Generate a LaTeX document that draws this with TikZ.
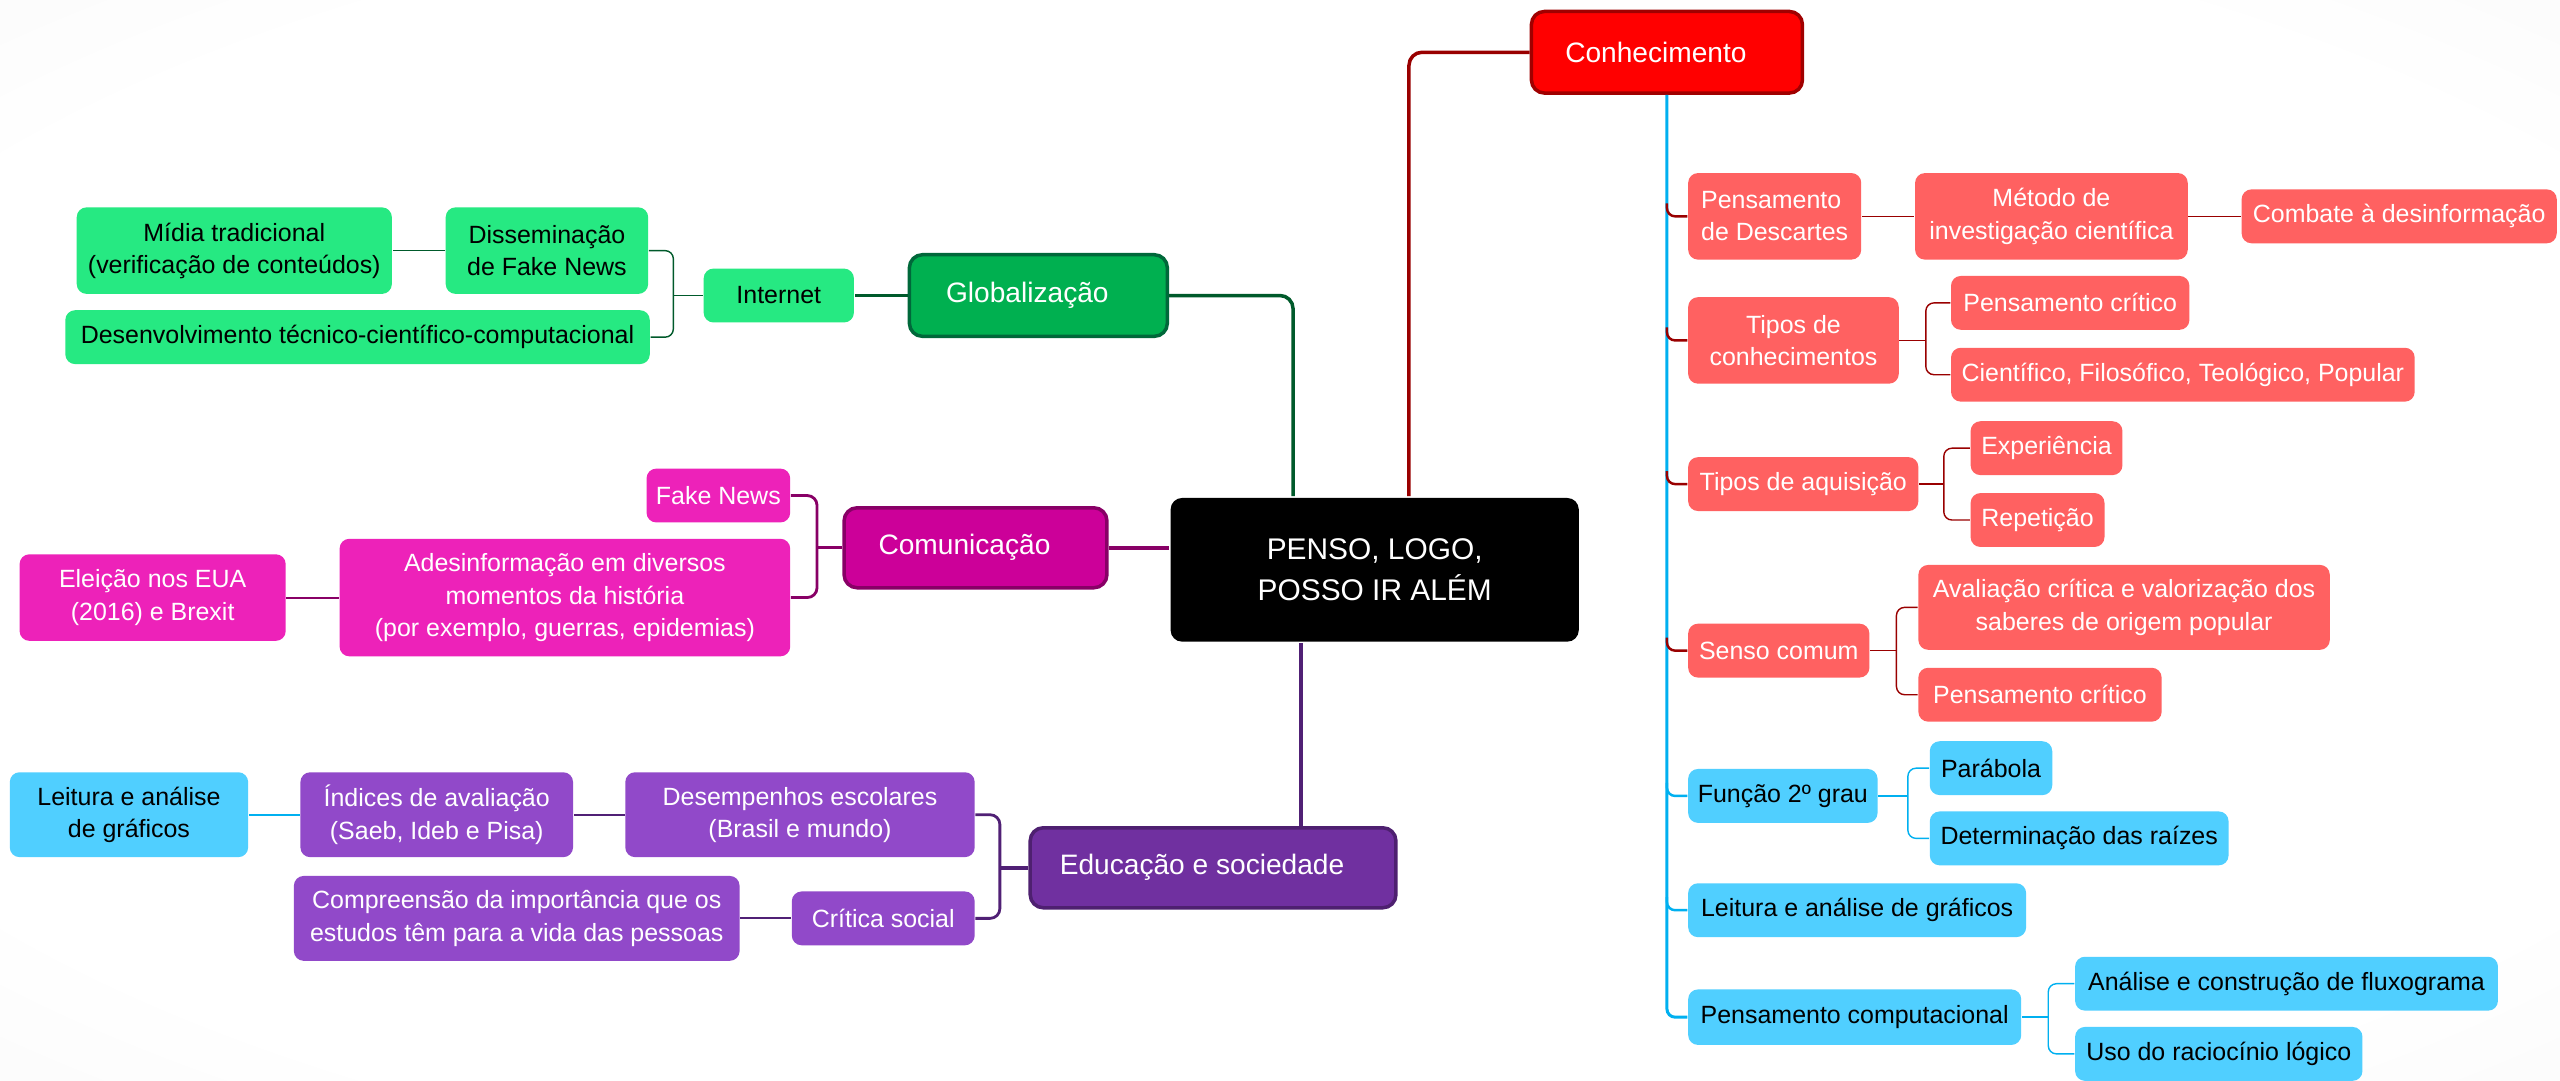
\documentclass[tikz,border=0pt]{standalone}
\usepackage{fontspec}
\setmainfont{Liberation Sans}
\def\px{0.16327mm}

\definecolor{leafred}{HTML}{FF6161}
\definecolor{leafblue}{HTML}{50CFFF}
\definecolor{leafgreen}{HTML}{26E982}
\definecolor{leafpink}{HTML}{ED22B9}
\definecolor{leafviolet}{HTML}{9149C9}
\definecolor{conhred}{HTML}{FF0000}
\definecolor{conhedge}{HTML}{A00000}
\definecolor{globgreen}{HTML}{00B050}
\definecolor{globedge}{HTML}{00683A}
\definecolor{comumag}{HTML}{CC0099}
\definecolor{comuedge}{HTML}{880066}
\definecolor{eduviolet}{HTML}{7030A0}
\definecolor{eduedge}{HTML}{4E2070}
\definecolor{linered}{HTML}{990000}
\definecolor{linegreen}{HTML}{005A2B}
\definecolor{linemag}{HTML}{880066}
\definecolor{lineviolet}{HTML}{502075}
\definecolor{lineblue}{HTML}{00B0F0}

\pgfdeclareradialshading{vignette}{\pgfpoint{0bp}{0bp}}{color(0bp)=(white); color(30bp)=(white); color(50bp)=(black!5); color(72bp)=(black!14)}

\begin{document}
\begin{tikzpicture}[x=\px, y=-\px,
    leaf/.style={rounded corners=6*\px, inner xsep=2pt, inner ysep=1pt, align=center,
                 font=\fontsize{7.1}{9.2}\selectfont, minimum height=33*\px},
    redleaf/.style={leaf, fill=leafred, text=white},
    blueleaf/.style={leaf, fill=leafblue, text=black},
    greenleaf/.style={leaf, fill=leafgreen, text=black},
    pinkleaf/.style={leaf, fill=leafpink, text=white},
    violetleaf/.style={leaf, fill=leafviolet, text=white},
    topic/.style={rounded corners=8*\px, line width=1pt, text=white, align=center,
                  font=\fontsize{8}{10}\selectfont, minimum height=49*\px},
    lefttext/.style={execute at begin node=\hspace*{-2.2mm}},
    link/.style={line width=1pt, rounded corners=8*\px},
    hook/.style={line width=0.7pt, rounded corners=5*\px},
    twig/.style={line width=0.4pt, rounded corners=5*\px}]

    % fundo
    \path[shading=vignette] (0,0) rectangle (1568,662);
    \useasboundingbox (0,0) rectangle (1568,662);

    % centro e temas
    \node[topic, fill=black, rounded corners=7*\px, minimum width=250*\px, minimum height=88*\px,
          font=\fontsize{8.5}{11.6}\selectfont] (centro) at (842,349) {PENSO, LOGO,\\POSSO IR ALÉM};
    \node[topic, lefttext, fill=conhred, draw=conhedge, minimum width=166*\px, minimum height=50*\px] (conh) at (1021,32) {Conhecimento};
    \node[topic, lefttext, fill=globgreen, draw=globedge, minimum width=158*\px, minimum height=50*\px] (glob) at (636,181) {Globalização};
    \node[topic, lefttext, fill=comumag, draw=comuedge, minimum width=161*\px] (comu) at (597.5,335.5) {Comunicação};
    \node[topic, lefttext, fill=eduviolet, draw=eduedge, minimum width=224*\px] (edu) at (743,531.5) {Educação e sociedade};

    % Conhecimento
    \node[redleaf, minimum width=106*\px, minimum height=53*\px, align=left] (desc) at (1087,132.5) {Pensamento\\de Descartes};
    \node[redleaf, minimum width=167*\px, minimum height=53*\px] (metodo) at (1256.5,132.5) {Método de\\investigação científica};
    \node[redleaf, minimum width=193*\px] (combate) at (1469.5,132.5) {Combate à desinformação};
    \node[redleaf, minimum width=129*\px, minimum height=53*\px] (tiposc) at (1098.5,208.5) {Tipos de\\conhecimentos};
    \node[redleaf, minimum width=146*\px] (pcrit1) at (1268,185.5) {Pensamento crítico};
    \node[redleaf, minimum width=284*\px] (cient) at (1337,229.5) {Científico, Filosófico, Teológico, Popular};
    \node[redleaf, minimum width=141*\px] (tiposa) at (1104.5,296.5) {Tipos de aquisição};
    \node[redleaf, minimum width=93*\px] (exper) at (1253.5,274.5) {Experiência};
    \node[redleaf, minimum width=82*\px] (repet) at (1248,318.5) {Repetição};
    \node[redleaf, minimum width=111*\px] (senso) at (1089.5,398.5) {Senso comum};
    \node[redleaf, minimum width=252*\px, minimum height=52*\px] (aval) at (1301,372) {Avaliação crítica e valorização dos\\saberes de origem popular};
    \node[redleaf, minimum width=149*\px] (pcrit2) at (1249.5,425.5) {Pensamento crítico};
    \node[blueleaf, minimum width=116*\px] (funcao) at (1092,487.5) {Função 2º grau};
    \node[blueleaf, minimum width=75*\px] (parab) at (1219.5,470.5) {Parábola};
    \node[blueleaf, minimum width=183*\px] (raizes) at (1273.5,513.5) {Determinação das raízes};
    \node[blueleaf, minimum width=207*\px] (leit1) at (1137.5,557.5) {Leitura e análise de gráficos};
    \node[blueleaf, minimum width=204*\px, minimum height=34*\px] (pcomp) at (1136,623) {Pensamento computacional};
    \node[blueleaf, minimum width=259*\px] (fluxo) at (1400.5,602.5) {Análise e construção de fluxograma};
    \node[blueleaf, minimum width=176*\px] (uso) at (1359,645.5) {Uso do raciocínio lógico};

    % Globalizacao
    \node[greenleaf, minimum width=92*\px] (internet) at (477,181) {Internet};
    \node[greenleaf, minimum width=124*\px, minimum height=53*\px] (dissem) at (335,153.5) {Disseminação\\de Fake News};
    \node[greenleaf, minimum width=193*\px, minimum height=53*\px] (midia) at (143.5,153.5) {Mídia tradicional\\(verificação de conteúdos)};
    \node[greenleaf, minimum width=358*\px] (desenv) at (219,206.5) {Desenvolvimento técnico-científico-computacional};

    % Comunicacao
    \node[pinkleaf, minimum width=88*\px] (fake) at (440,303.5) {Fake News};
    \node[pinkleaf, minimum width=276*\px, minimum height=72*\px] (adesinf) at (346,366) {Adesinformação em diversos\\momentos da história\\(por exemplo, guerras, epidemias)};
    \node[pinkleaf, minimum width=163*\px, minimum height=53*\px] (eleicao) at (93.5,366) {Eleição nos EUA\\(2016) e Brexit};

    % Educacao
    \node[violetleaf, minimum width=214*\px, minimum height=52*\px] (desemp) at (490,499) {Desempenhos escolares\\(Brasil e mundo)};
    \node[violetleaf, minimum width=167*\px, minimum height=52*\px] (indices) at (267.5,499) {Índices de avaliação\\(Saeb, Ideb e Pisa)};
    \node[blueleaf, minimum width=146*\px, minimum height=52*\px] (leit2) at (79,499) {Leitura e análise\\de gráficos};
    \node[violetleaf, minimum width=112*\px] (critica) at (541,562.5) {Crítica social};
    \node[violetleaf, minimum width=273*\px, minimum height=52*\px] (compre) at (316.5,562.5) {Compreensão da importância que os\\estudos têm para a vida das pessoas};

    % ligacoes do centro
    \draw[link, linered] ([xshift=21*\px]centro.north) |- (conh.west);
    \draw[link, linegreen] ([xshift=-50*\px]centro.north) |- (glob.east);
    \draw[link, linemag] (comu.east) -- (comu.east -| centro.west);
    \draw[link, lineviolet] ([xshift=-45*\px]centro.south) -- ([xshift=-45*\px]centro.south |- edu.north);

    % ligacoes de Conhecimento
    \draw[link, lineblue, line width=0.85pt, rounded corners=5*\px] (conh.south) |- (pcomp.west);
    \foreach \k in {funcao, leit1}
        \draw[hook, lineblue] ([yshift=8*\px]conh.south |- \k.west) |- (\k.west);
    \foreach \k in {desc, tiposc, tiposa, senso}
        \draw[hook, linered] ([yshift=8*\px]conh.south |- \k.west) |- (\k.west);
    \draw[twig, linered] (desc.east) -- (metodo.west);
    \draw[twig, linered] (metodo.east) -- (combate.west);
    \draw[twig, linered] (tiposc.east) -- ([xshift=-15*\px]pcrit1.west |- tiposc.east);
    \draw[twig, linered] (pcrit1.west) -- ++(-15,0) |- (cient.west);
    \draw[twig, linered] (tiposa.east) -- ([xshift=-16*\px]exper.west |- tiposa.east);
    \draw[twig, linered] (exper.west) -- ++(-16,0) |- (repet.west);
    \draw[twig, linered] (senso.east) -- ([xshift=-13*\px]aval.west |- senso.east);
    \draw[twig, linered] (aval.west) -- ++(-13,0) |- (pcrit2.west);
    \draw[twig, lineblue] (funcao.east) -- ([xshift=-13*\px]parab.west |- funcao.east);
    \draw[twig, lineblue] (parab.west) -- ++(-13,0) |- (raizes.west);
    \draw[twig, lineblue] (pcomp.east) -- ([xshift=-16*\px]fluxo.west |- pcomp.east);
    \draw[twig, lineblue] (fluxo.west) -- ++(-16,0) |- (uso.west);

    % ligacoes de Globalizacao
    \draw[link, linegreen] (glob.west) -- (internet.east);
    \draw[twig, linegreen] (internet.west) -- ([xshift=15*\px]dissem.east |- internet.west);
    \draw[twig, linegreen] (dissem.east) -- ++(15,0) |- (desenv.east);
    \draw[twig, linegreen] (dissem.west) -- (midia.east);

    % ligacoes de Comunicacao
    \draw[link, linemag, line width=0.8pt] (comu.west) -- ([xshift=16*\px]fake.east |- comu.west);
    \draw[link, linemag, line width=0.8pt, rounded corners=6*\px] (fake.east) -- ++(16,0) |- (adesinf.east);
    \draw[twig, linemag, line width=0.6pt] (adesinf.west) -- (eleicao.east);

    % ligacoes de Educacao
    \draw[link, lineviolet] (edu.west) -- ([xshift=15*\px]desemp.east |- edu.west);
    \draw[link, lineviolet, line width=0.8pt, rounded corners=6*\px] (desemp.east) -- ++(15,0) |- (critica.east);
    \draw[twig, lineviolet, line width=0.6pt] (desemp.west) -- (indices.east);
    \draw[twig, lineblue, line width=0.6pt] (indices.west) -- (leit2.east);
    \draw[twig, lineviolet, line width=0.6pt] (critica.west) -- (compre.east);
\end{tikzpicture}
\end{document}
